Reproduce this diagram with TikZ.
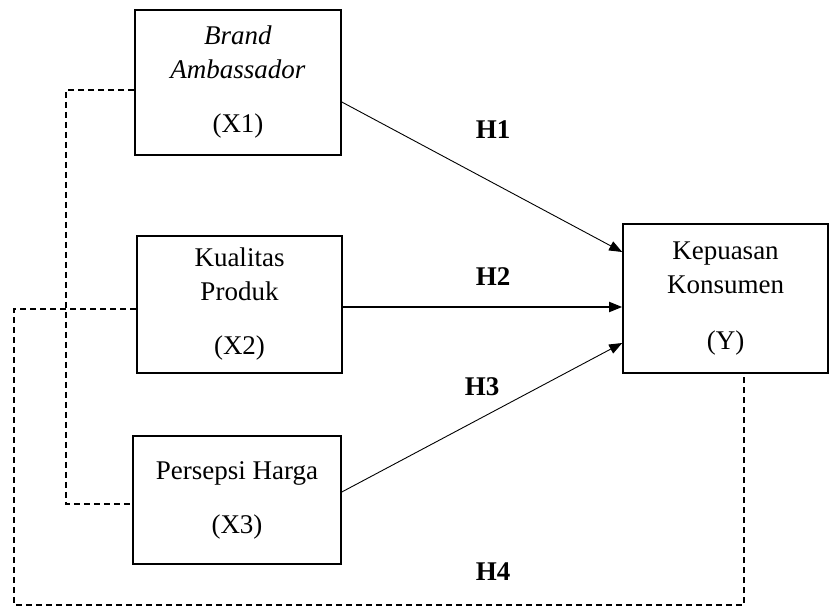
\documentclass[tikz,border=0pt]{standalone}
\usepackage{fontspec}
\setmainfont{Liberation Serif}
\usetikzlibrary{arrows.meta}

\tikzset{
	varbox/.style={draw, line width=1.6pt, align=center, inner sep=0pt, font=\fontsize{27}{34}\selectfont},
	hyplabel/.style={font=\fontsize{27}{34}\selectfont\bfseries},
	effect/.style={-{Triangle[length=13pt,width=10pt]}, line width=0.9pt},
	linkdash/.style={dash pattern=on 6pt off 4pt, line width=1.3pt},
}

\begin{document}
\begin{tikzpicture}[x=1pt,y=-1pt]
	\useasboundingbox (0,0) rectangle (830,607);

	% variabel
	\node [varbox, minimum width=206pt, minimum height=145pt] (X1) at (238,82.5) {\textit{Brand}\\\textit{Ambassador}\\[20pt](X1)};
	\node [varbox, minimum width=205pt, minimum height=137pt] (X2) at (239.5,304.5) {Kualitas\\Produk\\[20pt](X2)};
	\node [varbox, minimum width=208pt, minimum height=128pt] (X3) at (237,500) {\raisebox{9pt}{\begin{tabular}{@{}c@{}}Persepsi Harga\\[20pt](X3)\end{tabular}}};
	\node [varbox, minimum width=205pt, minimum height=149pt] (Y) at (725.5,298.5) {Kepuasan\\Konsumen\\[22pt](Y)};

	% pengaruh
	\draw [effect] (X1.east |- 0,102) -- (Y.west |- 0,252);
	\draw [effect, line width=1.8pt] (X2.east |- 0,307) -- (Y.west |- 0,307);
	\draw [effect] (X3.east |- 0,492) -- (Y.west |- 0,343);

	% garis putus-putus
	\draw [linkdash] (X1.west |- 0,90) -| (66,504) -- (X3.west |- 0,504);
	\draw [linkdash] (X2.west |- 0,309) -| (14,605) -| (Y.south -| 744,0);

	% hipotesis
	\node [hyplabel] (H1) at (493,130) {H1};
	\node [hyplabel] (H2) at (493,277) {H2};
	\node [hyplabel] (H3) at (482,387) {H3};
	\node [hyplabel] (H4) at (493,572) {H4};
\end{tikzpicture}
\end{document}
